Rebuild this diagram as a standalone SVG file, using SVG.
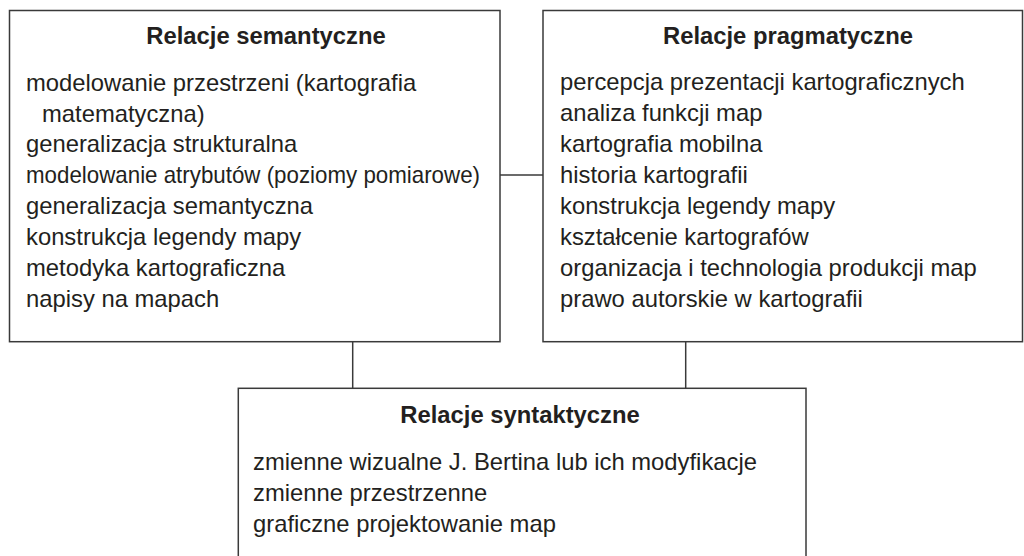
<svg xmlns="http://www.w3.org/2000/svg" width="1024" height="556" viewBox="0 0 1024 556">
<style>
.box{fill:#ffffff;stroke:#3a3a3a;stroke-width:1.5}
.con{fill:none;stroke:#3a3a3a;stroke-width:1.5}
.t{font-family:"Liberation Sans",Arial,sans-serif;font-size:23.8px;font-weight:bold;fill:#231f20;text-anchor:middle}
.b{font-family:"Liberation Sans",Arial,sans-serif;font-size:23.8px;fill:#231f20}
</style>
<rect width="1024" height="556" fill="#ffffff"/>
<g id="connectors">
<line class="con" x1="500" y1="175" x2="543" y2="175"/>
<line class="con" x1="352.7" y1="341.7" x2="352.7" y2="388.3"/>
<line class="con" x1="685.7" y1="341.7" x2="685.7" y2="388.3"/>
</g>
<g id="semantyczne">
<rect class="box" x="9.5" y="10.5" width="490.5" height="331.2"/>
<text class="t" x="266" y="44">Relacje semantyczne</text>
<text class="b" x="26" y="91">modelowanie przestrzeni (kartografia</text>
<text class="b" x="42" y="122">matematyczna)</text>
<text class="b" x="26" y="152">generalizacja strukturalna</text>
<text class="b" x="26" y="183" textLength="454" lengthAdjust="spacingAndGlyphs">modelowanie atrybutów (poziomy pomiarowe)</text>
<text class="b" x="26" y="214">generalizacja semantyczna</text>
<text class="b" x="26" y="245">konstrukcja legendy mapy</text>
<text class="b" x="26" y="276">metodyka kartograficzna</text>
<text class="b" x="26" y="307">napisy na mapach</text>
</g>
<g id="pragmatyczne">
<rect class="box" x="543" y="10.5" width="479.5" height="331.2"/>
<text class="t" x="788" y="44">Relacje pragmatyczne</text>
<text class="b" x="560" y="90">percepcja prezentacji kartograficznych</text>
<text class="b" x="560" y="121">analiza funkcji map</text>
<text class="b" x="560" y="152">kartografia mobilna</text>
<text class="b" x="560" y="183">historia kartografii</text>
<text class="b" x="560" y="214">konstrukcja legendy mapy</text>
<text class="b" x="560" y="245">kształcenie kartografów</text>
<text class="b" x="560" y="276">organizacja i technologia produkcji map</text>
<text class="b" x="560" y="307">prawo autorskie w kartografii</text>
</g>
<g id="syntaktyczne">
<rect class="box" x="238.3" y="388.3" width="567.7" height="180"/>
<text class="t" x="520" y="423">Relacje syntaktyczne</text>
<text class="b" x="253" y="470">zmienne wizualne J. Bertina lub ich modyfikacje</text>
<text class="b" x="253" y="501">zmienne przestrzenne</text>
<text class="b" x="253" y="532">graficzne projektowanie map</text>
</g>
</svg>
